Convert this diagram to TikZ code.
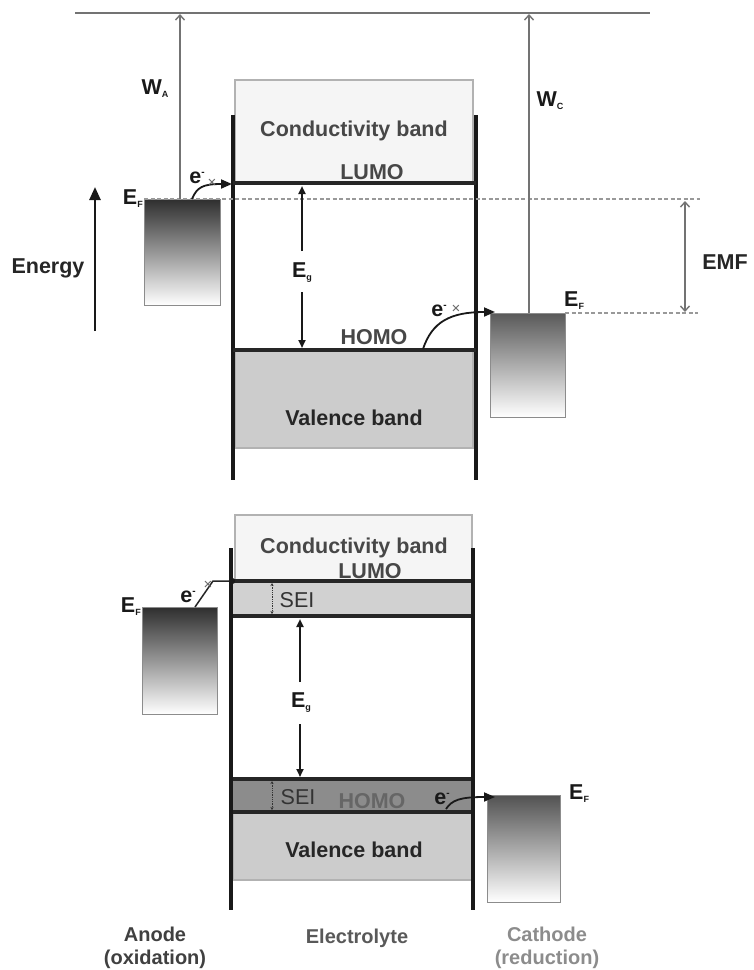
\documentclass[tikz,border=0pt]{standalone}
\usepackage{fontspec}
\setmainfont{Liberation Sans}
\usetikzlibrary{arrows.meta}
\newcommand{\lowsub}[1]{\raisebox{-3pt}{\fontsize{9}{9}\selectfont #1}}
\newcommand{\elec}{e\raisebox{8pt}{\fontsize{10}{10}\selectfont -}}
\begin{document}
\begin{tikzpicture}[x=1pt,y=-1pt,
  box/.style={inner sep=0pt, outer sep=0pt, anchor=north west},
  lightband/.style={box, fill=black!4, draw=black!30, line width=1.2pt},
  valband/.style={box, fill=black!20, draw=black!30, line width=1.2pt},
  seiband/.style={box, draw=none},
  electrode/.style={box, draw=black!45, line width=1pt, top color=black!82, bottom color=white},
  wall/.style={line width=3.5pt, black!90},
  level/.style={line width=3.5pt, black!85},
  vacline/.style={line width=2.5pt, black!55},
  thinarrow/.style={black!55, line width=1.4pt, -{Straight Barb[length=5pt,width=9pt]}},
  emfarrow/.style={black!55, line width=1.4pt, {Straight Barb[length=5pt,width=9pt]}-{Straight Barb[length=5pt,width=9pt]}},
  dashline/.style={black!40, line width=1.4pt, dash pattern=on 4pt off 2.5pt},
  gaparrow/.style={black!90, line width=2pt, -{Triangle[length=8pt,width=7pt]}},
  earrow/.style={black!90, line width=1.8pt, -{Triangle[length=11pt,width=9pt]}},
  seiarrow/.style={black!80, line width=0.8pt, densely dotted, {Stealth[length=3pt,width=3pt]}-{Stealth[length=3pt,width=3pt]}},
  lbl/.style={font=\fontsize{21.5}{24}\selectfont\bfseries, inner sep=0pt, text=black!85},
  grlbl/.style={lbl, text=black!72},
  seilbl/.style={font=\fontsize{21.5}{24}\selectfont, inner sep=0pt, text=black!80},
  xmark/.style={font=\fontsize{15}{15}\selectfont, inner sep=0pt, text=black!60},
  foot/.style={font=\fontsize{20}{23}\selectfont\bfseries, inner sep=0pt, align=center}
]
\useasboundingbox (0,0) rectangle (754,970);

% ---------------- top panel ----------------
\coordinate (vacL) at (75,13);
\coordinate (vacR) at (650,13);
\draw[vacline] (vacL) -- (vacR);

\node[lightband, minimum width=238pt, minimum height=103pt] (cb1) at (235,80) {};
\node[valband, minimum width=238pt, minimum height=98pt] (vb1) at (235,350) {};
\node[electrode, minimum width=76pt, minimum height=106pt] (an1) at (144,199) {};
\node[electrode, top color=black!65, minimum width=75pt, minimum height=104pt] (ca1) at (490,313) {};

\coordinate (lw1a) at (233,115); \coordinate (lw1b) at (233,480);
\coordinate (rw1a) at (476,115); \coordinate (rw1b) at (476,480);
\draw[wall] (lw1a) -- (lw1b);
\draw[wall] (rw1a) -- (rw1b);

\coordinate (lumo1L) at (233,183); \coordinate (lumo1R) at (476,183);
\coordinate (homo1L) at (233,350); \coordinate (homo1R) at (476,350);
\draw[level] (lumo1L) -- (lumo1R);
\draw[level] (homo1L) -- (homo1R);

\coordinate (dA1) at (144,199); \coordinate (dA2) at (700,199);
\coordinate (dC1) at (565,313); \coordinate (dC2) at (698,313);
\draw[dashline] (dA1) -- (dA2);
\draw[dashline] (dC1) -- (dC2);

\coordinate (waB) at (180,199); \coordinate (waT) at (180,14);
\coordinate (wcB) at (529,313); \coordinate (wcT) at (529,14);
\draw[thinarrow] (waB) -- (waT);
\draw[thinarrow] (wcB) -- (wcT);
\node[lbl, text=black!90] (wA) at (155,89) {W\lowsub{A}};
\node[lbl, text=black!90] (wC) at (550,101) {W\lowsub{C}};

\coordinate (emfT) at (685,201); \coordinate (emfB) at (685,312);
\draw[emfarrow] (emfT) -- (emfB);
\node[lbl] (emf) at (725,262) {EMF};

\coordinate (enB) at (95,331); \coordinate (enT) at (95,187);
\draw[line width=2.5pt, black!90, -{Triangle[length=13pt,width=11pt]}] (enB) -- (enT);
\node[lbl] (energy) at (48,268) {Energy};

\node[lbl, anchor=east, text=black!90] (ef1) at (143,199) {E\lowsub{F}};
\node[lbl, anchor=west, text=black!90] (ef2) at (564,301) {E\lowsub{F}};

\node[grlbl] (cbt1) at (354,131) {Conductivity band};
\node[grlbl] (lumot1) at (372,172) {LUMO};
\node[grlbl] (homot1) at (374,337) {HOMO};
\node[lbl] (vbt1) at (354,418) {Valence band};

\node[lbl, text=black!90] (eg1) at (302,273) {E\lowsub{g}};
\coordinate (eg1u) at (302,251); \coordinate (eg1d) at (302,292);
\coordinate (eg1ut) at (302,186); \coordinate (eg1dt) at (302,348);
\draw[gaparrow] (eg1u) -- (eg1ut);
\draw[gaparrow] (eg1d) -- (eg1dt);

% electron transfer, top
\coordinate (e1s) at (192,199); \coordinate (e1t) at (232,184);
\draw[earrow] (e1s) .. controls (197,187) and (203,184) .. (e1t);
\node[lbl, text=black!90] (e1l) at (197,178) {\elec};
\node[xmark] (x1) at (212,183) {×};

\coordinate (e2s) at (423,349); \coordinate (e2t) at (495,312);
\draw[earrow] (e2s) .. controls (432,322) and (450,312) .. (e2t);
\node[lbl, text=black!90] (e2l) at (439,311) {\elec};
\node[xmark] (x2) at (456,309) {×};

% ---------------- bottom panel ----------------
\node[lightband, minimum width=237pt, minimum height=66pt] (cb2) at (235,515) {};
\node[seiband, fill=black!18, minimum width=242pt, minimum height=35pt] (sei1) at (231,581) {};
\node[seiband, fill=black!45, minimum width=242pt, minimum height=33pt] (sei2) at (231,779) {};
\node[valband, minimum width=240pt, minimum height=68pt] (vb2) at (233,812) {};
\node[electrode, minimum width=75pt, minimum height=107pt] (an2) at (142,607) {};
\node[electrode, top color=black!68, minimum width=73pt, minimum height=107pt] (ca2) at (487,795) {};

\coordinate (s1a) at (231,581); \coordinate (s1b) at (473,581);
\coordinate (s1c) at (231,616); \coordinate (s1d) at (473,616);
\coordinate (s2a) at (231,779); \coordinate (s2b) at (473,779);
\coordinate (s2c) at (231,812); \coordinate (s2d) at (473,812);
\draw[level] (s1a) -- (s1b);
\draw[level] (s1c) -- (s1d);
\draw[level] (s2a) -- (s2b);
\draw[level] (s2c) -- (s2d);

\coordinate (lw2a) at (231,548); \coordinate (lw2b) at (231,910);
\coordinate (rw2a) at (473,548); \coordinate (rw2b) at (473,910);
\draw[wall] (lw2a) -- (lw2b);
\draw[wall] (rw2a) -- (rw2b);

\node[grlbl] (cbt2) at (354,548) {Conductivity band};
\node[grlbl] (lumot2) at (370,571) {LUMO};
\node[seilbl] (seit1) at (297,600) {SEI};
\node[seilbl] (seit2) at (298,797) {SEI};
\node[grlbl, text=black!60] (homot2) at (372,801) {HOMO};
\node[lbl] (vbt2) at (354,850) {Valence band};

\coordinate (sa1) at (272,583); \coordinate (sb1) at (272,614);
\coordinate (sa2) at (272,781); \coordinate (sb2) at (272,810);
\draw[seiarrow] (sa1) -- (sb1);
\draw[seiarrow] (sa2) -- (sb2);

\node[lbl, text=black!90] (eg2) at (301,703) {E\lowsub{g}};
\coordinate (eg2u) at (300,682); \coordinate (eg2d) at (300,724);
\coordinate (eg2ut) at (300,619); \coordinate (eg2dt) at (300,777);
\draw[gaparrow] (eg2u) -- (eg2ut);
\draw[gaparrow] (eg2d) -- (eg2dt);

\node[lbl, anchor=east, text=black!90] (ef3) at (141,607) {E\lowsub{F}};
\node[lbl, anchor=west, text=black!90] (ef4) at (569,794) {E\lowsub{F}};

% electron transfer, bottom
\coordinate (e3s) at (195,607); \coordinate (e3m) at (213,581); \coordinate (e3t) at (232,581);
\draw[black!85, line width=1.5pt] (e3s) -- (e3m) -- (e3t);
\fill[black!90] (e3t) circle (3.2pt);
\node[lbl, text=black!90] (e3l) at (188,597) {\elec};
\node[xmark] (x3) at (208,585) {×};

\coordinate (e4s) at (446,809); \coordinate (e4t) at (495,797);
\draw[earrow] (e4s) .. controls (452,800) and (460,797) .. (e4t);
\node[lbl, text=black!90] (e4l) at (442,799) {\elec};

% footer labels
\node[foot, text=black!75] (anode) at (155,948) {Anode\\(oxidation)};
\node[foot, text=black!65] (electrolyte) at (357,938) {Electrolyte};
\node[foot, text=black!45] (cathode) at (547,948) {Cathode\\(reduction)};
\end{tikzpicture}
\end{document}
